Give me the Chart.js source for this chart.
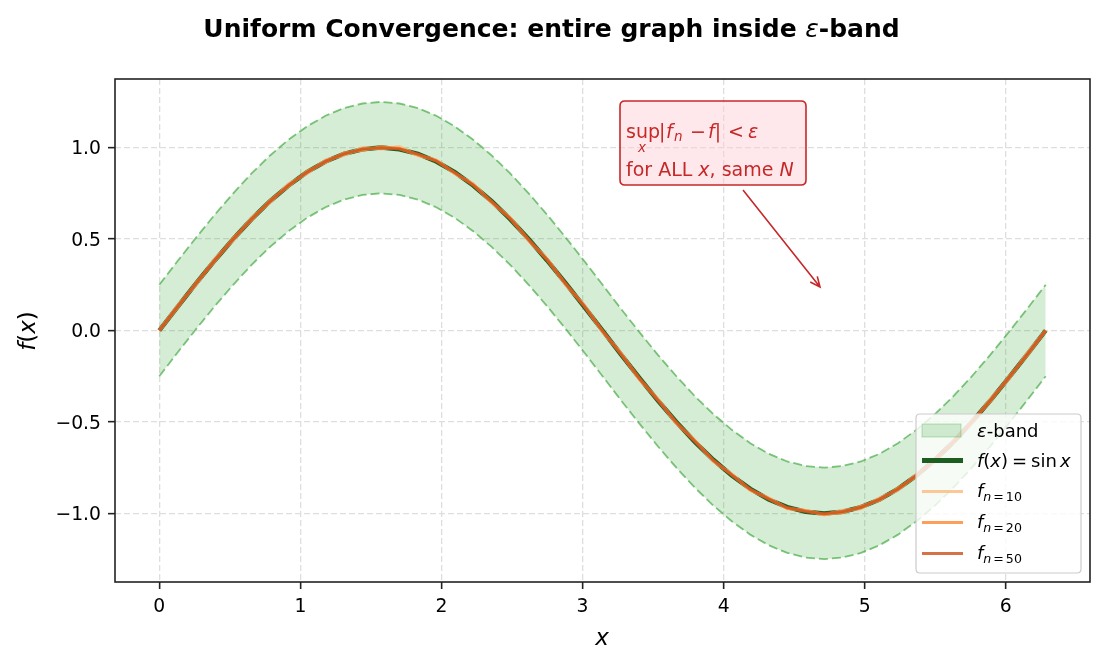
<!DOCTYPE html>
<html>
<head>
<meta charset="utf-8">
<title>Uniform Convergence</title>
<script src="https://cdn.jsdelivr.net/npm/chart.js@4.4.1/dist/chart.umd.min.js"></script>
<style>
  html, body { margin: 0; padding: 0; background: #fff; }
  canvas { display: block; }
</style>
</head>
<body>
<canvas id="chart" width="1106" height="665"></canvas>
<script>
// x samples 0 .. 2*pi (step pi/24)
var xs = [0, 0.131, 0.262, 0.393, 0.524, 0.654, 0.785, 0.916, 1.047, 1.178, 1.309, 1.440, 1.571,
  1.702, 1.833, 1.963, 2.094, 2.225, 2.356, 2.487, 2.618, 2.749, 2.880, 3.011, 3.142,
  3.272, 3.403, 3.534, 3.665, 3.796, 3.927, 4.058, 4.189, 4.320, 4.451, 4.581, 4.712,
  4.843, 4.974, 5.105, 5.236, 5.367, 5.498, 5.629, 5.760, 5.890, 6.021, 6.152, 6.283];

var sinY = [0, 0.131, 0.259, 0.383, 0.500, 0.609, 0.707, 0.793, 0.866, 0.924, 0.966, 0.991, 1.000,
  0.991, 0.966, 0.924, 0.866, 0.793, 0.707, 0.609, 0.500, 0.383, 0.259, 0.131, 0,
  -0.131, -0.259, -0.383, -0.500, -0.609, -0.707, -0.793, -0.866, -0.924, -0.966, -0.991, -1.000,
  -0.991, -0.966, -0.924, -0.866, -0.793, -0.707, -0.609, -0.500, -0.383, -0.259, -0.131, 0];

var bandUpper = [0.25, 0.381, 0.509, 0.633, 0.750, 0.859, 0.957, 1.043, 1.116, 1.174, 1.216, 1.241, 1.250,
  1.241, 1.216, 1.174, 1.116, 1.043, 0.957, 0.859, 0.750, 0.633, 0.509, 0.381, 0.250,
  0.119, -0.009, -0.133, -0.250, -0.359, -0.457, -0.543, -0.616, -0.674, -0.716, -0.741, -0.750,
  -0.741, -0.716, -0.674, -0.616, -0.543, -0.457, -0.359, -0.250, -0.133, -0.009, 0.119, 0.250];

var bandLower = [-0.25, -0.119, 0.009, 0.133, 0.250, 0.359, 0.457, 0.543, 0.616, 0.674, 0.716, 0.741, 0.750,
  0.741, 0.716, 0.674, 0.616, 0.543, 0.457, 0.359, 0.250, 0.133, 0.009, -0.119, -0.250,
  -0.381, -0.509, -0.633, -0.750, -0.859, -0.957, -1.043, -1.116, -1.174, -1.216, -1.241, -1.250,
  -1.241, -1.216, -1.174, -1.116, -1.043, -0.957, -0.859, -0.750, -0.633, -0.509, -0.381, -0.250];

var f10Y = [0, 0.139, 0.251, 0.392, 0.492, 0.618, 0.699, 0.802, 0.857, 0.933, 0.958, 1.000, 0.992,
  1.006, 0.956, 0.933, 0.857, 0.803, 0.698, 0.618, 0.491, 0.392, 0.250, 0.140, -0.008,
  -0.122, -0.268, -0.374, -0.509, -0.600, -0.716, -0.784, -0.875, -0.915, -0.975, -0.982, -1.009,
  -0.983, -0.975, -0.915, -0.874, -0.785, -0.715, -0.601, -0.508, -0.374, -0.267, -0.123, 0];

var f20Y = [0, 0.127, 0.263, 0.379, 0.505, 0.604, 0.712, 0.788, 0.871, 0.919, 0.971, 0.986, 1.005,
  0.995, 0.961, 0.929, 0.861, 0.797, 0.703, 0.613, 0.495, 0.388, 0.254, 0.136, -0.004,
  -0.126, -0.264, -0.378, -0.505, -0.603, -0.712, -0.788, -0.871, -0.919, -0.972, -0.985, -1.005,
  -0.996, -0.961, -0.929, -0.861, -0.798, -0.702, -0.614, -0.495, -0.388, -0.254, -0.136, 0];

var f50Y = [0, 0.133, 0.257, 0.385, 0.498, 0.611, 0.705, 0.795, 0.864, 0.926, 0.964, 0.993, 0.998,
  0.993, 0.964, 0.926, 0.864, 0.795, 0.705, 0.611, 0.498, 0.385, 0.257, 0.133, -0.002,
  -0.129, -0.261, -0.381, -0.502, -0.607, -0.709, -0.791, -0.868, -0.922, -0.968, -0.989, -1.002,
  -0.989, -0.968, -0.922, -0.868, -0.791, -0.709, -0.607, -0.502, -0.381, -0.261, -0.129, 0];

var xTicks = [0, 1, 2, 3, 4, 5, 6];
var yTicks = [-1.0, -0.5, 0.0, 0.5, 1.0];

(function () {
  "use strict";

  var FONT = "'DejaVu Sans', sans-serif";
  var RED = "#c62828";
  var C10 = "rgba(253,190,133,0.85)";
  var C20 = "rgba(253,141,60,0.85)";
  var C50 = "rgba(200,80,25,0.8)";

  function pts(ys) {
    return xs.map(function (x, i) { return { x: x, y: ys[i] }; });
  }

  function fontOf(p) {
    return (p.s === "i" ? "italic " : "normal ") + (p.w || "normal") + " " + p.size + "px " + FONT;
  }

  // draws a run of text pieces (mathtext-like); returns end x
  function drawRun(ctx, x, y, parts, measureOnly) {
    parts.forEach(function (p) {
      ctx.font = fontOf(p);
      if (!measureOnly) ctx.fillText(p.t, x, y + (p.dy || 0));
      x += ctx.measureText(p.t).width + (p.gap || 0);
    });
    return x;
  }

  function roundRect(ctx, x, y, w, h, r) {
    ctx.beginPath();
    ctx.moveTo(x + r, y);
    ctx.lineTo(x + w - r, y);
    ctx.quadraticCurveTo(x + w, y, x + w, y + r);
    ctx.lineTo(x + w, y + h - r);
    ctx.quadraticCurveTo(x + w, y + h, x + w - r, y + h);
    ctx.lineTo(x + r, y + h);
    ctx.quadraticCurveTo(x, y + h, x, y + h - r);
    ctx.lineTo(x, y + r);
    ctx.quadraticCurveTo(x, y, x + r, y);
    ctx.closePath();
  }

  var decor = {
    id: "decor",
    afterDraw: function (chart) {
      var ctx = chart.ctx;
      var a = chart.chartArea;
      ctx.save();
      ctx.textBaseline = "alphabetic";
      ctx.textAlign = "left";

      // spines
      ctx.strokeStyle = "#222";
      ctx.lineWidth = 1.6;
      ctx.strokeRect(a.left, a.top, a.right - a.left, a.bottom - a.top);

      // title
      ctx.fillStyle = "#000";
      var title = [
        { t: "Uniform Convergence: entire graph inside ", size: 25, w: "bold" },
        { t: "\u03b5", s: "i", size: 25 },
        { t: "-band", size: 25, w: "bold" }
      ];
      var tw = drawRun(ctx, 0, 0, title, true);
      drawRun(ctx, 551.5 - tw / 2, 36.5, title);

      // axis labels
      var xl = [{ t: "x", s: "i", size: 23 }];
      var xw = drawRun(ctx, 0, 0, xl, true);
      drawRun(ctx, 602 - xw / 2, 645, xl);
      var yl = [
        { t: "f", s: "i", size: 23 }, { t: "(", size: 23 },
        { t: "x", s: "i", size: 23 }, { t: ")", size: 23 }
      ];
      var yw = drawRun(ctx, 0, 0, yl, true);
      ctx.save();
      ctx.translate(35, 331);
      ctx.rotate(-Math.PI / 2);
      drawRun(ctx, -yw / 2, 0, yl);
      ctx.restore();

      // annotation box + arrow
      roundRect(ctx, 620, 101, 186, 84, 5);
      ctx.fillStyle = "rgba(255,205,210,0.45)";
      ctx.fill();
      ctx.strokeStyle = RED;
      ctx.lineWidth = 1.6;
      ctx.stroke();

      ctx.fillStyle = RED;
      drawRun(ctx, 626, 137.5, [{ t: "sup", size: 19 }]);
      drawRun(ctx, 638, 152, [{ t: "x", s: "i", size: 13.5 }]);
      drawRun(ctx, 659, 137.5, [{ t: "|", size: 19 }]);
      drawRun(ctx, 666, 137.5, [{ t: "f", s: "i", size: 19 }]);
      drawRun(ctx, 674, 141, [{ t: "n", s: "i", size: 13.5 }]);
      drawRun(ctx, 690, 137.5, [{ t: "\u2212", size: 19 }]);
      drawRun(ctx, 708, 137.5, [{ t: "f", s: "i", size: 19 }, { t: "|", size: 19 }]);
      drawRun(ctx, 728, 137.5, [{ t: "<", size: 19 }]);
      drawRun(ctx, 748, 137.5, [{ t: "\u03b5", s: "i", size: 19 }]);
      drawRun(ctx, 626, 176, [
        { t: "for ALL ", size: 19 }, { t: "x", s: "i", size: 19 },
        { t: ", same ", size: 19 }, { t: "N", s: "i", size: 19 }
      ]);

      var x0 = 743, y0 = 190, x1 = 820, y1 = 287;
      ctx.strokeStyle = RED;
      ctx.lineWidth = 1.6;
      ctx.beginPath();
      ctx.moveTo(x0, y0);
      ctx.lineTo(x1, y1);
      var ang = Math.atan2(y1 - y0, x1 - x0);
      var hl = 11, hw = 0.42;
      ctx.moveTo(x1 - hl * Math.cos(ang - hw), y1 - hl * Math.sin(ang - hw));
      ctx.lineTo(x1, y1);
      ctx.lineTo(x1 - hl * Math.cos(ang + hw), y1 - hl * Math.sin(ang + hw));
      ctx.stroke();

      // legend
      roundRect(ctx, 916, 414, 165, 159, 4);
      ctx.fillStyle = "rgba(255,255,255,0.8)";
      ctx.fill();
      ctx.strokeStyle = "#cccccc";
      ctx.lineWidth = 1.2;
      ctx.stroke();

      var lx = 922, lw = 41, tx = 977;
      var rows = [430.5, 460.5, 491.5, 522.5, 553.5];
      ctx.fillStyle = "rgba(44,160,44,0.2)";
      ctx.fillRect(lx, rows[0] - 6.5, 39, 13);
      ctx.strokeStyle = "rgba(44,160,44,0.3)";
      ctx.lineWidth = 1;
      ctx.strokeRect(lx, rows[0] - 6.5, 39, 13);

      function legLine(y, color, width) {
        ctx.strokeStyle = color;
        ctx.lineWidth = width;
        ctx.beginPath();
        ctx.moveTo(lx, y);
        ctx.lineTo(lx + lw, y);
        ctx.stroke();
      }
      legLine(rows[1], "#1b5e20", 5);
      legLine(rows[2], C10, 3);
      legLine(rows[3], C20, 3);
      legLine(rows[4], C50, 3);

      ctx.fillStyle = "#000";
      drawRun(ctx, tx, rows[0] + 6.5, [{ t: "\u03b5", s: "i", size: 18 }, { t: "-band", size: 18 }]);
      drawRun(ctx, tx, rows[1] + 6.5, [
        { t: "f", s: "i", size: 18 }, { t: "(", size: 18 }, { t: "x", s: "i", size: 18 },
        { t: ")", size: 18, gap: 4 }, { t: "=", size: 18, gap: 4 }, { t: "sin", size: 18, gap: 3 },
        { t: "x", s: "i", size: 18 }
      ]);
      ["10", "20", "50"].forEach(function (n, i) {
        var y = rows[2 + i];
        var ex = drawRun(ctx, tx, y + 5, [{ t: "f", s: "i", size: 18 }]);
        drawRun(ctx, ex, y + 9, [
          { t: "n", s: "i", size: 12.6, gap: 2 }, { t: "=", size: 12.6, gap: 2 }, { t: n, size: 12.6 }
        ]);
      });

      ctx.restore();
    }
  };

  var grid = {
    color: "#dedede",
    lineWidth: 1.3,
    tickColor: "#222",
    tickLength: 7,
    tickWidth: 1.6,
    tickBorderDash: []
  };
  var border = { display: false, dash: [6, 3] };
  var tickFont = { family: FONT, size: 18.75 };

  function fmtTick(v) {
    return (v < 0 ? "\u2212" : "") + Math.abs(v).toFixed(1);
  }

  new Chart(document.getElementById("chart").getContext("2d"), {
    type: "line",
    data: {
      datasets: [
        {
          label: "\u03b5-band upper", data: pts(bandUpper), order: 5,
          borderColor: "rgba(44,160,44,0.6)", borderWidth: 1.8, borderDash: [9, 4],
          backgroundColor: "rgba(44,160,44,0.2)", fill: "+1", pointRadius: 0
        },
        {
          label: "\u03b5-band lower", data: pts(bandLower), order: 5,
          borderColor: "rgba(44,160,44,0.6)", borderWidth: 1.8, borderDash: [9, 4],
          fill: false, pointRadius: 0
        },
        {
          label: "f(x) = sin x", data: pts(sinY), order: 3,
          borderColor: "#1b5e20", borderWidth: 4.5, fill: false, pointRadius: 0
        },
        {
          label: "f_n=10", data: pts(f10Y), order: 2,
          borderColor: C10, borderWidth: 3, fill: false, pointRadius: 0
        },
        {
          label: "f_n=20", data: pts(f20Y), order: 1,
          borderColor: C20, borderWidth: 3, fill: false, pointRadius: 0
        },
        {
          label: "f_n=50", data: pts(f50Y), order: 0,
          borderColor: C50, borderWidth: 3, fill: false, pointRadius: 0
        }
      ]
    },
    options: {
      responsive: false,
      animation: false,
      layout: { padding: { top: 79, right: 16, left: 0, bottom: 0 } },
      plugins: {
        legend: { display: false },
        tooltip: { enabled: false },
        title: { display: false }
      },
      scales: {
        x: {
          type: "linear", min: -0.314, max: 6.597,
          grid: grid, border: border,
          afterBuildTicks: function (s) { s.ticks = xTicks.map(function (v) { return { value: v }; }); },
          afterFit: function (s) { s.height = 83; },
          ticks: { color: "#000", font: tickFont, padding: 7, maxRotation: 0,
                   callback: function (v) { return String(v); } }
        },
        y: {
          type: "linear", min: -1.375, max: 1.375,
          grid: grid, border: border,
          afterBuildTicks: function (s) { s.ticks = yTicks.map(function (v) { return { value: v }; }); },
          afterFit: function (s) { s.width = 115; },
          ticks: { color: "#000", font: tickFont, padding: 7, labelOffset: 2, callback: fmtTick }
        }
      }
    },
    plugins: [decor]
  });
})();
</script>
</body>
</html>
